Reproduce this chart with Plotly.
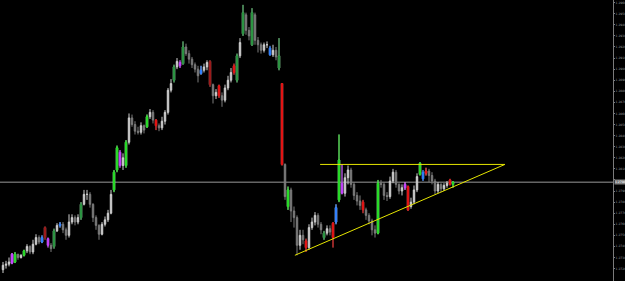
import plotly.graph_objects as go

# ---------------- data (price values) ----------------
open_p = [
    1.2719, 1.2723, 1.2724, 1.2725, 1.2726, 1.2733, 1.2730, 1.2732, 1.2736, 1.2740,
    1.2735, 1.2742, 1.2748, 1.2744, 1.2757, 1.2747, 1.2741, 1.2740, 1.2754, 1.2759,
    1.2760, 1.2755, 1.2750, 1.2762, 1.2766, 1.2762, 1.2766, 1.2778, 1.2787, 1.2787,
    1.2778, 1.2766, 1.2759, 1.2751, 1.2760, 1.2764, 1.2770, 1.2791, 1.2809, 1.2825,
    1.2813, 1.2813, 1.2834, 1.2856, 1.2850, 1.2844, 1.2843, 1.2849, 1.2848, 1.2857,
    1.2861, 1.2854, 1.2849, 1.2847, 1.2853, 1.2861, 1.2881, 1.2890, 1.2902, 1.2906,
    1.2905, 1.2920, 1.2914, 1.2909, 1.2904, 1.2900, 1.2896, 1.2899, 1.2902, 1.2907,
    1.2886, 1.2876, 1.2885, 1.2876, 1.2872, 1.2883, 1.2890, 1.2903, 1.2890, 1.2912,
    1.2932, 1.2949, 1.2935, 1.2922, 1.2949, 1.2926, 1.2922, 1.2917, 1.2922, 1.2919,
    1.2913, 1.2917, 1.2901, 1.2887, 1.2814, 1.2776, 1.2791, 1.2772, 1.2766, 1.2741,
    1.2750, 1.2745, 1.2739, 1.2757, 1.2762, 1.2768, 1.2760, 1.2748, 1.2752, 1.2756,
    1.2761, 1.2762, 1.2782, 1.2797, 1.2788, 1.2802, 1.2809, 1.2796, 1.2786, 1.2781,
    1.2780, 1.2773, 1.2768, 1.2763, 1.2755, 1.2752, 1.2797, 1.2796, 1.2786, 1.2785,
    1.2799, 1.2807, 1.2796, 1.2790, 1.2793, 1.2794, 1.2776, 1.2780, 1.2791, 1.2805,
    1.2807, 1.2806, 1.2808, 1.2804, 1.2799, 1.2790, 1.2796, 1.2792, 1.2795, 1.2800,
    1.2796,
]
high_p = [
    1.2726, 1.2727, 1.2730, 1.2734, 1.2735, 1.2733, 1.2733, 1.2737, 1.2742, 1.2741,
    1.2746, 1.2751, 1.2750, 1.2750, 1.2758, 1.2748, 1.2743, 1.2756, 1.2761, 1.2762,
    1.2762, 1.2757, 1.2769, 1.2769, 1.2768, 1.2769, 1.2780, 1.2791, 1.2791, 1.2789,
    1.2779, 1.2768, 1.2760, 1.2762, 1.2767, 1.2773, 1.2791, 1.2809, 1.2831, 1.2827,
    1.2824, 1.2836, 1.2860, 1.2859, 1.2853, 1.2848, 1.2852, 1.2850, 1.2859, 1.2864,
    1.2863, 1.2855, 1.2851, 1.2857, 1.2863, 1.2883, 1.2891, 1.2904, 1.2910, 1.2908,
    1.2925, 1.2923, 1.2917, 1.2911, 1.2906, 1.2903, 1.2903, 1.2905, 1.2908, 1.2908,
    1.2887, 1.2882, 1.2886, 1.2879, 1.2886, 1.2894, 1.2901, 1.2905, 1.2914, 1.2928,
    1.2958, 1.2951, 1.2938, 1.2955, 1.2951, 1.2929, 1.2924, 1.2924, 1.2925, 1.2921,
    1.2922, 1.2920, 1.2928, 1.2887, 1.2815, 1.2794, 1.2793, 1.2776, 1.2768, 1.2755,
    1.2755, 1.2747, 1.2760, 1.2766, 1.2771, 1.2770, 1.2762, 1.2754, 1.2759, 1.2759,
    1.2762, 1.2778, 1.2841, 1.2814, 1.2806, 1.2813, 1.2811, 1.2798, 1.2789, 1.2786,
    1.2782, 1.2775, 1.2770, 1.2765, 1.2759, 1.2800, 1.2800, 1.2798, 1.2789, 1.2803,
    1.2810, 1.2809, 1.2797, 1.2796, 1.2798, 1.2795, 1.2784, 1.2795, 1.2806, 1.2816,
    1.2809, 1.2811, 1.2810, 1.2807, 1.2801, 1.2798, 1.2797, 1.2797, 1.2799, 1.2801,
    1.2799,
]
low_p = [
    1.2716, 1.2720, 1.2722, 1.2724, 1.2725, 1.2728, 1.2729, 1.2731, 1.2734, 1.2733,
    1.2733, 1.2741, 1.2742, 1.2743, 1.2746, 1.2739, 1.2735, 1.2738, 1.2753, 1.2757,
    1.2752, 1.2746, 1.2748, 1.2760, 1.2759, 1.2760, 1.2764, 1.2777, 1.2782, 1.2775,
    1.2762, 1.2755, 1.2746, 1.2750, 1.2758, 1.2762, 1.2769, 1.2789, 1.2807, 1.2811,
    1.2809, 1.2811, 1.2832, 1.2848, 1.2841, 1.2841, 1.2841, 1.2842, 1.2847, 1.2855,
    1.2851, 1.2845, 1.2844, 1.2845, 1.2850, 1.2859, 1.2879, 1.2888, 1.2900, 1.2901,
    1.2904, 1.2912, 1.2905, 1.2901, 1.2897, 1.2888, 1.2895, 1.2897, 1.2899, 1.2884,
    1.2869, 1.2873, 1.2874, 1.2866, 1.2870, 1.2881, 1.2888, 1.2895, 1.2888, 1.2910,
    1.2930, 1.2931, 1.2926, 1.2921, 1.2922, 1.2915, 1.2914, 1.2915, 1.2919, 1.2912,
    1.2911, 1.2908, 1.2899, 1.2813, 1.2782, 1.2773, 1.2762, 1.2757, 1.2732, 1.2737,
    1.2742, 1.2735, 1.2737, 1.2755, 1.2759, 1.2757, 1.2751, 1.2746, 1.2750, 1.2750,
    1.2739, 1.2760, 1.2780, 1.2787, 1.2785, 1.2796, 1.2793, 1.2782, 1.2777, 1.2773,
    1.2770, 1.2764, 1.2760, 1.2750, 1.2748, 1.2751, 1.2793, 1.2782, 1.2781, 1.2783,
    1.2797, 1.2793, 1.2787, 1.2786, 1.2791, 1.2772, 1.2774, 1.2778, 1.2789, 1.2804,
    1.2799, 1.2804, 1.2798, 1.2796, 1.2787, 1.2788, 1.2789, 1.2790, 1.2793, 1.2795,
    1.2793,
]
close_p = [
    1.2723, 1.2724, 1.2726, 1.2733, 1.2733, 1.2730, 1.2732, 1.2736, 1.2740, 1.2735,
    1.2742, 1.2748, 1.2744, 1.2748, 1.2748, 1.2741, 1.2738, 1.2754, 1.2759, 1.2760,
    1.2755, 1.2750, 1.2762, 1.2766, 1.2762, 1.2766, 1.2778, 1.2787, 1.2787, 1.2778,
    1.2766, 1.2759, 1.2751, 1.2760, 1.2764, 1.2770, 1.2787, 1.2807, 1.2829, 1.2813,
    1.2820, 1.2834, 1.2856, 1.2850, 1.2844, 1.2843, 1.2849, 1.2845, 1.2857, 1.2861,
    1.2854, 1.2849, 1.2847, 1.2853, 1.2861, 1.2881, 1.2887, 1.2902, 1.2907, 1.2903,
    1.2920, 1.2914, 1.2909, 1.2904, 1.2900, 1.2894, 1.2899, 1.2902, 1.2906, 1.2886,
    1.2876, 1.2879, 1.2876, 1.2872, 1.2883, 1.2890, 1.2897, 1.2897, 1.2912, 1.2924,
    1.2951, 1.2935, 1.2930, 1.2951, 1.2926, 1.2922, 1.2917, 1.2922, 1.2922, 1.2913,
    1.2917, 1.2911, 1.2912, 1.2814, 1.2785, 1.2791, 1.2772, 1.2766, 1.2741, 1.2750,
    1.2746, 1.2739, 1.2757, 1.2762, 1.2768, 1.2760, 1.2755, 1.2752, 1.2756, 1.2753,
    1.2748, 1.2775, 1.2818, 1.2788, 1.2802, 1.2809, 1.2796, 1.2786, 1.2781, 1.2777,
    1.2773, 1.2768, 1.2763, 1.2755, 1.2752, 1.2797, 1.2796, 1.2786, 1.2785, 1.2799,
    1.2807, 1.2796, 1.2790, 1.2793, 1.2796, 1.2773, 1.2780, 1.2791, 1.2803, 1.2815,
    1.2801, 1.2808, 1.2804, 1.2799, 1.2790, 1.2796, 1.2792, 1.2795, 1.2797, 1.2796,
    1.2798,
]
bars = list(range(len(close_p)))

# indicator-coloured bars
green_bright_bars = [4, 7, 37, 38, 41, 48, 95, 112, 125, 139, 150]
green_dark_bars = [17, 26, 57, 60, 78, 80, 83, 92, 107]
red_bars = [51, 72, 77, 93, 101, 110, 120, 135, 141, 149]
red_dark_bars = [14, 69]
blue_bars = [13, 19, 66, 89, 111, 140]
magenta_bars = [3, 15, 39, 59, 113, 134]

# price scale ticks
tick_values = [round(1.2960 - 0.001 * k, 4) for k in range(25)]
current_price = 1.2798

# drawn triangle (bar index, price)
support_x = [97.3, 167.3]
support_y = [1.2732, 1.2814]
resist_x = [105.7, 167.3]
resist_y = [1.2814, 1.2814]

# ---------------- figure ----------------
fig = go.Figure()

fig.add_trace(go.Candlestick(
    x=bars, open=open_p, high=high_p, low=low_p, close=close_p,
    increasing=dict(line=dict(color="#cfcfcf", width=1), fillcolor="#cfcfcf"),
    decreasing=dict(line=dict(color="#7c7c7c", width=1), fillcolor="#7c7c7c"),
    whiskerwidth=0, showlegend=False, hoverinfo="skip",
))


def add_group(idx_list, color):
    fig.add_trace(go.Candlestick(
        x=[bars[i] for i in idx_list],
        open=[open_p[i] for i in idx_list],
        high=[high_p[i] for i in idx_list],
        low=[low_p[i] for i in idx_list],
        close=[close_p[i] for i in idx_list],
        increasing=dict(line=dict(color=color, width=1), fillcolor=color),
        decreasing=dict(line=dict(color=color, width=1), fillcolor=color),
        whiskerwidth=0, showlegend=False, hoverinfo="skip",
    ))


add_group(green_bright_bars, "#1fdc1f")
add_group(green_dark_bars, "#23913a")
add_group(red_bars, "#e80f0f")
add_group(red_dark_bars, "#9e1616")
add_group(blue_bars, "#2a7dff")
add_group(magenta_bars, "#c43cff")

fig.add_trace(go.Scatter(x=support_x, y=support_y, mode="lines",
                         line=dict(color="#e6e600", width=1),
                         showlegend=False, hoverinfo="skip"))
fig.add_trace(go.Scatter(x=resist_x, y=resist_y, mode="lines",
                         line=dict(color="#e6e600", width=1),
                         showlegend=False, hoverinfo="skip"))

fig.add_shape(type="line", xref="paper", x0=0, x1=1, yref="y",
              y0=current_price, y1=current_price,
              line=dict(color="#9a9a9a", width=1), layer="below")

fig.add_annotation(xref="paper", x=1, xanchor="left", xshift=1,
                   yref="y", y=current_price, yanchor="middle",
                   text=f"{current_price:.4f}", showarrow=False,
                   font=dict(size=3, color="#ffffff", family="DejaVu Sans"),
                   bgcolor="#808080", borderpad=0)

# the price label covers the tick label at the same level
tick_text = ["" if abs(v - current_price) < 0.0005 else f"{v:.4f}" for v in tick_values]

fig.update_layout(
    width=625, height=281, autosize=False,
    margin=dict(l=0, r=12, t=0, b=0, pad=0, autoexpand=False),
    paper_bgcolor="#000000", plot_bgcolor="#000000",
    showlegend=False,
    xaxis=dict(range=[-1, 203.33], showgrid=False, zeroline=False,
               showticklabels=False, ticks="", showline=False,
               automargin=False, rangeslider=dict(visible=False)),
    yaxis=dict(range=[1.27088, 1.29624], side="right", showgrid=False,
               zeroline=False, showline=True, linecolor="#7a7a7a", linewidth=1,
               ticks="outside", ticklen=1, tickcolor="#7a7a7a",
               ticklabelstandoff=0,
               automargin=False,
               tickvals=tick_values, ticktext=tick_text,
               tickfont=dict(size=3, color="#9a9a9a", family="DejaVu Sans")),
)

fig.write_html("out.html")
